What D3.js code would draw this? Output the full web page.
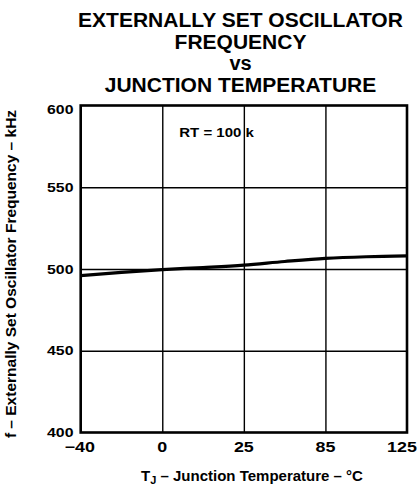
<!DOCTYPE html>
<html>
<head>
<meta charset="utf-8">
<script src="https://cdn.jsdelivr.net/npm/d3@7/dist/d3.min.js"></script>
<style>
  html, body { margin: 0; padding: 0; background: #fff; }
  svg { display: block; }
  text { font-family: "Liberation Sans", Arial, Helvetica, sans-serif; font-weight: bold; fill: #000; }
</style>
</head>
<body>
<svg id="chart" width="419" height="487"></svg>
<script>
const titleLines = ["EXTERNALLY SET OSCILLATOR", "FREQUENCY", "vs", "JUNCTION TEMPERATURE"];
const xTicks = [-40, 0, 25, 85, 125];
const xTickLabels = ["\u221240", "0", "25", "85", "125"];
const yTicks = [400, 450, 500, 550, 600];
const temperature = [-40, -20, 0, 12.5, 25, 55, 85, 105, 125];
const frequency = [495.9, 497.9, 499.6, 500.9, 502.4, 504.6, 506.5, 507.5, 508.0];
const annotation = "RT = 100 k";
const xTitleMain = "T";
const xTitleSub = "J";
const xTitleRest = " \u2013 Junction Temperature \u2013 \u00B0C";
const yTitle = "f \u2013 Externally Set Oscillator Frequency \u2013 kHz";

const svg = d3.select("#chart");
const L = 80.7, R = 407, T = 105.5, B = 432.5;

const x = d3.scaleLinear()
  .domain(xTicks)
  .range(xTicks.map((d, i) => L + i * (R - L) / (xTicks.length - 1)));
const y = d3.scaleLinear().domain([400, 600]).range([B, T]);

// Title
const titleY = [27, 48.6, 70.2, 91.8];
const titleSize = [21, 21, 20, 21];
svg.selectAll(".title").data(titleLines).enter().append("text")
  .attr("x", 240.5).attr("y", (d, i) => titleY[i])
  .attr("text-anchor", "middle").attr("font-size", (d, i) => titleSize[i])
  .text(d => d);

// Grid via axes
const gx = svg.append("g").attr("transform", `translate(0,${B})`)
  .call(d3.axisBottom(x).tickValues(xTicks.slice(1, -1)).tickSize(-(B - T)).tickFormat(""));
gx.select(".domain").remove();
gx.selectAll("line").attr("stroke", "#000").attr("stroke-width", 1.4);

const gy = svg.append("g").attr("transform", `translate(${L},0)`)
  .call(d3.axisLeft(y).tickValues(yTicks.slice(1, -1)).tickSize(-(R - L)).tickFormat(""));
gy.select(".domain").remove();
gy.selectAll("line").attr("stroke", "#000").attr("stroke-width", 1.4);

// Frame
svg.append("rect").attr("x", L).attr("y", T).attr("width", R - L).attr("height", B - T)
  .attr("fill", "none").attr("stroke", "#000").attr("stroke-width", 2.6);

// Curve
const line = d3.line().curve(d3.curveMonotoneX)
  .x((d, i) => x(temperature[i])).y(d => y(d));
svg.append("path").datum(frequency).attr("d", line)
  .attr("fill", "none").attr("stroke", "#000").attr("stroke-width", 3.2)
  .attr("stroke-linejoin", "round");

// Y tick labels
svg.selectAll(".ytick").data(yTicks).enter().append("text")
  .attr("transform", d => `translate(73.5,${y(d) + (d === 600 ? 4 : 0)}) scale(1.22,1)`)
  .attr("dy", "0.36em").attr("text-anchor", "end").attr("font-size", 13)
  .text(d => d);

// X tick labels
svg.selectAll(".xtick").data(xTicks).enter().append("text")
  .attr("transform", (d, i) => `translate(${x(d) + (i === 0 ? -1 : 0) + (i === xTicks.length - 1 ? -5 : 0)},451.7) scale(1.28,1)`)
  .attr("text-anchor", "middle").attr("font-size", 14)
  .text((d, i) => xTickLabels[i]);

// Annotation
svg.append("text")
  .attr("transform", "translate(179.3,137.3) scale(1.2,1)")
  .attr("font-size", 12.5).text(annotation);

// X title
const xt = svg.append("text").attr("x", 252).attr("y", 481)
  .attr("text-anchor", "middle").attr("font-size", 15);
xt.append("tspan").text(xTitleMain);
xt.append("tspan").attr("font-size", 11).attr("dy", 3).text(xTitleSub);
xt.append("tspan").attr("dy", -3).text(xTitleRest);

// Y title
svg.append("text")
  .attr("transform", `translate(15.5,274) rotate(-90)`)
  .attr("text-anchor", "middle").attr("font-size", 15.5)
  .text(yTitle);
</script>
</body>
</html>
